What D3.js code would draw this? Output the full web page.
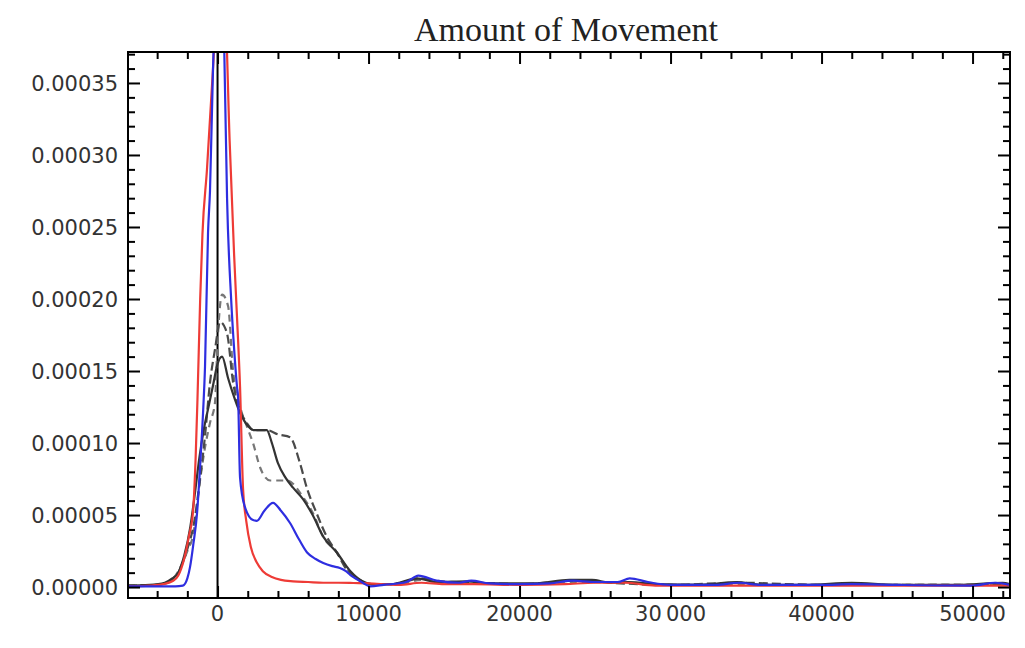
<!DOCTYPE html>
<html>
<head>
  <script src="https://d3js.org/d3.v7.min.js"></script>
  <style>
    body { margin: 0; background: #fff; }
    svg { font-family: "DejaVu Sans", sans-serif; }
    .curve { fill: none; stroke-width: 2.2px; stroke-linejoin: round; }
    .title { font-family: "Liberation Serif", "DejaVu Serif", serif; font-size: 34px; fill: #222; }
    .lab { font-size: 21px; fill: #333; }
  </style>
</head>
<body>
<div id="chart"></div>
<script>
// densities are given in units of 1e-5
var red = [[-5930,0.05],[-4500,0.1],[-3600,0.2],[-3000,0.4],[-2600,0.8],[-2200,2.0],[-1900,3.5],
  [-1620,5.3],[-1450,9],[-1330,13],[-1150,20],[-1000,24.5],[-700,29],[-300,36],[0,42],[250,44],
  [500,41],[800,31],[1100,23],[1300,18.5],[1490,13.9],[1690,6.8],[1900,4.6],[2200,2.8],[2600,1.7],
  [3000,1.1],[3600,0.7],[4200,0.5],[5000,0.4],[6000,0.35],[7000,0.3],[8000,0.3],[9000,0.28],
  [10000,0.25],[12000,0.15],[13500,0.3],[15000,0.2],[17000,0.2],[20000,0.15],[23000,0.2],
  [25000,0.3],[27000,0.3],[29000,0.1],[32000,0.1],[40000,0.1],[52480,0.1]];

var blue = [[-5930,0.05],[-4000,0.05],[-2800,0.05],[-2300,0.1],[-2000,0.6],[-1820,1.4],[-1600,3],
  [-1360,5.1],[-1150,8.5],[-960,12.1],[-830,15.3],[-630,24.6],[-500,27.5],[-300,36],[0,43],
  [250,44],[450,37],[630,27],[900,20],[1100,16.5],[1290,13.9],[1360,13.2],[1490,7.6],
  [1800,5.6],[2350,4.65],[2600,4.6],[3100,5.3],[3675,5.85],[4200,5.3],[4800,4.45],[5400,3.3],
  [5930,2.4],[6500,1.95],[7000,1.67],[7600,1.45],[8100,1.32],[8500,1.1],[8800,0.83],[9300,0.5],
  [9640,0.28],[10100,0.05],[11000,0.15],[12500,0.35],[13300,0.8],[14500,0.45],[16000,0.3],
  [16800,0.45],[18000,0.25],[20000,0.2],[22000,0.25],[23500,0.45],[25000,0.35],[26500,0.35],
  [27300,0.6],[28500,0.35],[30000,0.15],[33000,0.15],[34500,0.3],[36000,0.15],[40000,0.15],
  [42000,0.2],[45000,0.15],[50000,0.1],[51500,0.3],[52480,0.15]];

var darkSolid = [[-5930,0.1],[-4500,0.15],[-3500,0.3],[-3000,0.6],[-2600,1.0],[-2200,2.2],
  [-1800,4.2],[-1500,6.5],[-1200,9],[-900,11],[-600,12.5],[-300,14],[0,15.5],[300,16],
  [700,14.5],[1000,13.5],[1490,12.1],[2000,11.2],[2370,10.9],[3260,10.9],[3600,10.0],
  [4000,8.6],[4500,7.6],[5000,6.9],[5660,6.1],[6300,5.0],[7000,3.5],[7900,2.4],[8800,1.1],
  [9600,0.4],[10200,0.2],[11500,0.2],[13200,0.6],[14500,0.35],[16500,0.4],[18000,0.25],
  [21000,0.25],[23300,0.5],[24800,0.5],[26000,0.3],[27200,0.35],[29000,0.2],[32000,0.15],
  [34400,0.35],[36000,0.15],[39000,0.15],[42000,0.3],[45000,0.15],[49000,0.15],[52000,0.3],[52480,0.2]];

var darkDashed = [[-5930,0.1],[-4000,0.15],[-3400,0.3],[-2600,1.0],[-2200,2.0],[-1900,3.0],
  [-1600,4.2],[-1160,7.5],[-830,10.5],[-500,14.2],[-170,16.5],[170,18.4],[630,17.6],[1030,14.2],
  [1490,12.3],[2000,11.3],[2370,10.9],[3260,10.9],[4000,10.6],[4800,10.4],[5460,8.6],[5910,6.9],
  [6570,5.1],[7230,3.5],[7900,2.4],[8560,1.2],[9440,0.5],[10000,0.2],[11500,0.2],[13500,0.6],
  [15000,0.3],[17000,0.3],[20000,0.2],[24000,0.45],[26000,0.3],[30000,0.15],[34500,0.3],
  [40000,0.15],[52480,0.15]];

var grayDashed = [[-5930,0.1],[-4000,0.15],[-3300,0.3],[-2600,1.1],[-2000,2.5],[-1600,3.7],
  [-1160,7.4],[-830,9.7],[-500,11.4],[-170,12.8],[0,17],[300,20.3],[700,19.5],[1030,15],
  [1500,12.5],[2000,11],[2350,10],[2820,8.3],[3480,7.4],[4600,7.4],[5660,6.25],[6330,5.1],
  [6990,3.5],[7910,2.4],[8780,1.0],[9500,0.4],[10200,0.2],[12000,0.2],[13500,0.5],[16000,0.3],
  [20000,0.2],[24000,0.35],[27500,0.3],[30000,0.15],[40000,0.15],[52480,0.15]];

var xTicks = [0, 10000, 20000, 30000, 40000, 50000];
var xTickLabels = ["0", "10000", "20000", "30\u2009000", "40000", "50000"];
var yTicks = [0, 0.00005, 0.0001, 0.00015, 0.0002, 0.00025, 0.0003, 0.00035];
var yTickLabels = ["0.00000", "0.00005", "0.00010", "0.00015", "0.00020", "0.00025", "0.00030", "0.00035"];
var title = "Amount of Movement";

var width = 1025, height = 648;
var frameL = 128, frameR = 1010, frameT = 52, frameB = 598;

var x = d3.scaleLinear().domain([-5930, 52480]).range([frameL, frameR]);
var y = d3.scaleLinear().domain([-0.0000076, 0.0003715]).range([frameB, frameT]);

var svg = d3.select("#chart").append("svg")
  .attr("width", width)
  .attr("height", height);

svg.append("defs").append("clipPath").attr("id", "plot")
  .append("rect")
  .attr("x", frameL).attr("y", frameT)
  .attr("width", frameR - frameL).attr("height", frameB - frameT);

var line = d3.line()
  .x(d => x(d[0]))
  .y(d => y(d[1] * 1e-5))
  .curve(d3.curveMonotoneX);

var series = [
  {data: grayDashed, color: "#777", dash: "7,5"},
  {data: darkDashed, color: "#4a4a4a", dash: "9,4"},
  {data: darkSolid, color: "#333", dash: null},
  {data: red, color: "#ee3b36", dash: null},
  {data: blue, color: "#2e2ee0", dash: null}
];

var g = svg.append("g").attr("clip-path", "url(#plot)");

// axis line at x = 0
g.append("line")
  .attr("x1", x(0)).attr("x2", x(0))
  .attr("y1", frameT).attr("y2", frameB)
  .attr("stroke", "#000").attr("stroke-width", 2);

g.selectAll(".curve")
  .data(series).enter()
  .append("path")
  .attr("class", "curve")
  .attr("d", d => line(d.data))
  .style("stroke", d => d.color)
  .style("stroke-dasharray", d => d.dash);

/* frame with ticks on all four sides */
var majorLen = 12, minorLen = 7;
var xMinor = d3.range(-4000, 52481, 2000).filter(v => xTicks.indexOf(v) < 0);
var yMinor = d3.range(0, 38).map(i => i * 0.00001).filter((v, i) => i % 5 != 0);

function ticks(axisGen, len, transform) {
  svg.append("g")
    .attr("transform", transform)
    .call(axisGen.tickSize(len).tickFormat(""))
    .call(s => s.select(".domain").remove())
    .selectAll("line").attr("stroke", "#000").attr("stroke-width", 2);
}

ticks(d3.axisTop(x).tickValues(xTicks), majorLen, `translate(0,${frameB})`);
ticks(d3.axisTop(x).tickValues(xMinor), minorLen, `translate(0,${frameB})`);
ticks(d3.axisBottom(x).tickValues(xTicks), majorLen, `translate(0,${frameT})`);
ticks(d3.axisBottom(x).tickValues(xMinor), minorLen, `translate(0,${frameT})`);
ticks(d3.axisRight(y).tickValues(yTicks), majorLen, `translate(${frameL},0)`);
ticks(d3.axisRight(y).tickValues(yMinor), minorLen, `translate(${frameL},0)`);
ticks(d3.axisLeft(y).tickValues(yTicks), majorLen, `translate(${frameR},0)`);
ticks(d3.axisLeft(y).tickValues(yMinor), minorLen, `translate(${frameR},0)`);

svg.append("rect")
  .attr("x", frameL).attr("y", frameT)
  .attr("width", frameR - frameL).attr("height", frameB - frameT)
  .attr("fill", "none").attr("stroke", "#000").attr("stroke-width", 2);

/* labels */
svg.selectAll(".xlab")
  .data(xTicks).enter()
  .append("text")
  .attr("class", "lab")
  .attr("x", d => x(d))
  .attr("y", frameB + 23)
  .attr("text-anchor", "middle")
  .text((d, i) => xTickLabels[i]);

svg.selectAll(".ylab")
  .data(yTicks).enter()
  .append("text")
  .attr("class", "lab")
  .attr("x", frameL - 10)
  .attr("y", d => y(d))
  .attr("dy", "0.36em")
  .attr("text-anchor", "end")
  .text((d, i) => yTickLabels[i]);

svg.append("text")
  .attr("class", "title")
  .attr("x", 566)
  .attr("y", 41)
  .attr("text-anchor", "middle")
  .text(title);
</script>
</body>
</html>
